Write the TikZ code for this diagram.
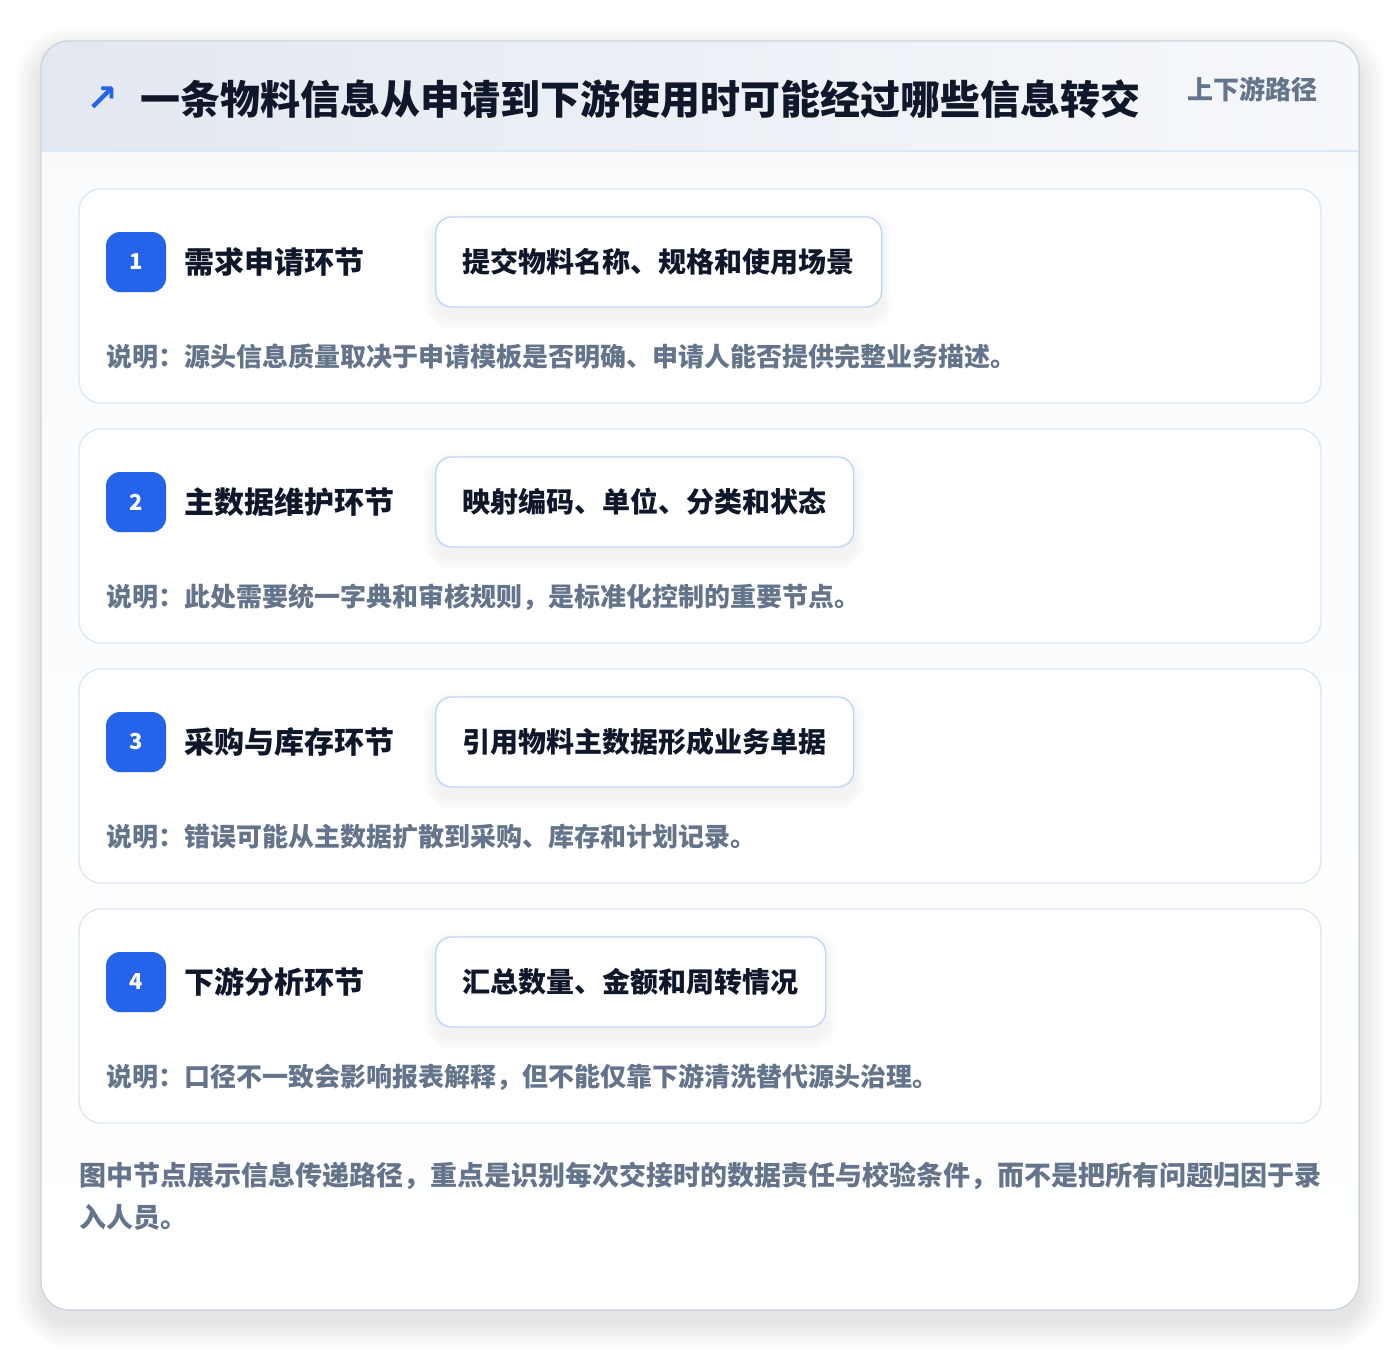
\documentclass[tikz,border=0pt]{standalone}
\usepackage{fontspec}
\setmainfont{Noto Sans CJK SC}
\newfontfamily\symfont{DejaVu Sans}
\usetikzlibrary{positioning}

\definecolor{accent}{HTML}{2563EB}
\definecolor{ink}{HTML}{0F172A}
\definecolor{muted}{HTML}{64748B}
\definecolor{frameline}{HTML}{CBD5E1}
\definecolor{cardline}{HTML}{DCE7F7}
\definecolor{boxline}{HTML}{BFD6F6}
\definecolor{headleft}{HTML}{E3E8F1}
\definecolor{headright}{HTML}{F6F8FB}
\definecolor{pagebg}{HTML}{F8FAFC}

\tikzset{
  stagecard/.style={draw=cardline, line width=1.4pt, fill=white, rounded corners=22pt},
  badge/.style={fill=accent, rounded corners=14pt, minimum size=60pt, inner sep=0pt,
    text=white, font=\fontsize{22}{26}\selectfont\bfseries},
  stagename/.style={anchor=west, inner sep=0pt, text=ink, font=\fontsize{30}{36}\selectfont\bfseries},
  detailbox/.style={anchor=west, draw=boxline, line width=1.4pt, fill=white, rounded corners=16pt,
    inner xsep=27pt, inner ysep=0pt, minimum height=90pt, text=ink,
    font=\fontsize{28}{34}\selectfont\bfseries},
  notetext/.style={anchor=west, inner sep=0pt, text=muted, font=\fontsize{26}{32}\selectfont\bfseries},
}

\begin{document}
\begin{tikzpicture}[x=1pt,y=-1pt]
    \useasboundingbox[fill=white] (0,0) rectangle (1400,1352);

    % soft shadow under the frame
    \foreach \k in {1,...,26}
        \fill[black, opacity=0.0045, rounded corners={28+\k}]
            ({41-\k},{53-\k}) rectangle ({1359+\k},{1322+\k});

    % frame, header band
    \fill[top color=pagebg, bottom color=white, rounded corners=28pt] (41,41) rectangle (1359,1310);
    \begin{scope}
        \clip[rounded corners=28pt] (41,41) rectangle (1359,1310);
        \fill[left color=headleft, right color=headright] (41,41) rectangle (1359,151);
    \end{scope}
    \draw[cardline, line width=1.4pt] (42,151) -- (1358,151);
    \draw[frameline, line width=1.4pt, rounded corners=28pt] (41,41) rectangle (1359,1310);

    \node[text=accent, inner sep=0pt, font=\symfont\bfseries\fontsize{38}{38}\selectfont] (icon) at (102,99) {↗};
    \node[anchor=west, inner sep=0pt, text=ink, font=\fontsize{40}{48}\selectfont\bfseries]
        (title) at (140,99) {一条物料信息从申请到下游使用时可能经过哪些信息转交};
    \node[anchor=east, inner sep=0pt, text=muted, font=\fontsize{26}{32}\selectfont\bfseries]
        (tag) at (1318,89) {上下游路径};

    % stages
    \foreach \i/\stage/\detail/\note in {
        1/需求申请环节/提交物料名称、规格和使用场景/说明：源头信息质量取决于申请模板是否明确、申请人能否提供完整业务描述。,
        2/主数据维护环节/映射编码、单位、分类和状态/说明：此处需要统一字典和审核规则，是标准化控制的重要节点。,
        3/采购与库存环节/引用物料主数据形成业务单据/说明：错误可能从主数据扩散到采购、库存和计划记录。,
        4/下游分析环节/汇总数量、金额和周转情况/说明：口径不一致会影响报表解释，但不能仅靠下游清洗替代源头治理。}
    {
        \pgfmathsetmacro{\top}{189+240*(\i-1)}
        \draw[stagecard] (79,\top) rectangle (1321,{\top+214});
        \node[badge] (badge\i) at (136,{\top+73}) {\i};
        \node[stagename, right=18pt of badge\i] (stage\i) {\stage};
        % ghost box first, to size its shadow
        \node[detailbox, draw=none, fill=none, text opacity=0] (ghost\i) at (435,{\top+73}) {\detail};
        \foreach \k in {1,...,12}
            \fill[black, opacity=0.0045, rounded corners={16+\k}]
                ([shift={(-\k pt,{-6pt+\k pt})}]ghost\i.north west)
                rectangle ([shift={(\k pt,{-10pt-\k pt})}]ghost\i.south east);
        \node[detailbox] (detail\i) at (435,{\top+73}) {\detail};
        \node[notetext] (note\i) at (106,{\top+168}) {\note};
    }

    % closing remark
    \node[notetext, align=left, font=\fontsize{27}{42}\selectfont\bfseries] (remark) at (79,1196)
        {图中节点展示信息传递路径，重点是识别每次交接时的数据责任与校验条件，而不是把所有问题归因于录\\入人员。};
\end{tikzpicture}
\end{document}
